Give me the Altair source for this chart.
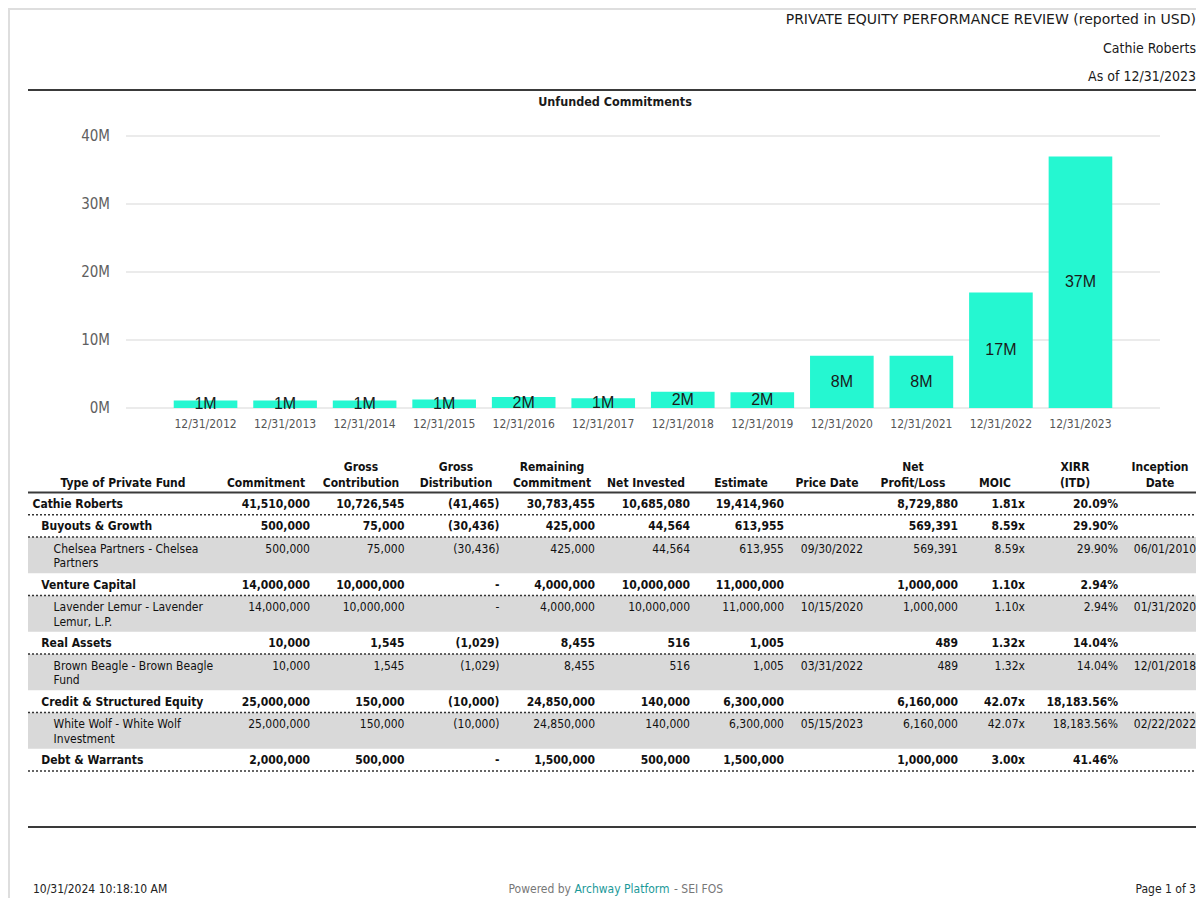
import textwrap
import pandas as pd
import altair as alt

# ---------------- data ----------------
report_title = "PRIVATE EQUITY PERFORMANCE REVIEW (reported in USD)"
client_name = "Cathie Roberts"
as_of_text = "As of 12/31/2023"
chart_title = "Unfunded Commitments"
footer_left = "10/31/2024 10:18:10 AM"
footer_mid = ["Powered by", "Archway Platform", "- SEI FOS"]
footer_right = "Page 1 of 3"

period_ends = ["12/31/2012", "12/31/2013", "12/31/2014", "12/31/2015", "12/31/2016", "12/31/2017",
               "12/31/2018", "12/31/2019", "12/31/2020", "12/31/2021", "12/31/2022", "12/31/2023"]
unfunded_musd = [1.1, 1.1, 1.1, 1.25, 1.6, 1.45, 2.4, 2.3, 7.7, 7.7, 17.0, 37.0]
axis_ticks_musd = [0, 10, 20, 30, 40]

header_top = ["", "", "Gross", "Gross", "Remaining", "", "", "", "Net", "", "XIRR", "Inception"]
header_bottom = ["Type of Private Fund", "Commitment", "Contribution", "Distribution", "Commitment",
                 "Net Invested", "Estimate", "Price Date", "Profit/Loss", "MOIC", "(ITD)", "Date"]

fund_names = ["Cathie Roberts", "Buyouts & Growth", "Chelsea Partners - Chelsea Partners",
              "Venture Capital", "Lavender Lemur - Lavender Lemur, L.P.", "Real Assets",
              "Brown Beagle - Brown Beagle Fund", "Credit & Structured Equity",
              "White Wolf - White Wolf Investment", "Debt & Warrants"]
levels = [0, 1, 2, 1, 2, 1, 2, 1, 2, 1]
commitment = [41510000, 500000, 500000, 14000000, 14000000, 10000, 10000, 25000000, 25000000, 2000000]
gross_contribution = [10726545, 75000, 75000, 10000000, 10000000, 1545, 1545, 150000, 150000, 500000]
gross_distribution = [-41465, -30436, -30436, 0, 0, -1029, -1029, -10000, -10000, 0]
remaining_commitment = [30783455, 425000, 425000, 4000000, 4000000, 8455, 8455, 24850000, 24850000, 1500000]
net_invested = [10685080, 44564, 44564, 10000000, 10000000, 516, 516, 140000, 140000, 500000]
estimate = [19414960, 613955, 613955, 11000000, 11000000, 1005, 1005, 6300000, 6300000, 1500000]
price_date = ["", "", "09/30/2022", "", "10/15/2020", "", "03/31/2022", "", "05/15/2023", ""]
net_profit_loss = [8729880, 569391, 569391, 1000000, 1000000, 489, 489, 6160000, 6160000, 1000000]
moic = [1.81, 8.59, 8.59, 1.10, 1.10, 1.32, 1.32, 42.07, 42.07, 3.00]
xirr_pct = [20.09, 29.90, 29.90, 2.94, 2.94, 14.04, 14.04, 18183.56, 18183.56, 41.46]
inception_date = ["", "", "06/01/2010", "", "01/31/2020", "", "12/01/2018", "", "02/22/2022", ""]

# ---------------- layout / style ----------------
W, H = 1188, 890
FONT = "DejaVu Sans Condensed, DejaVu Sans"
TITLE_FONT = "DejaVu Sans"
BAR_FONT = "Liberation Sans, Arial"
BAR_COLOR = "#25F7D1"
TEXT = "#111111"
LEFT, RIGHT = 20, 1188
RIGHT_TEXT = 1188
HEADER_CENTERS = [115, 258, 353, 448, 544, 638, 733, 819, 905, 987, 1067, 1152]
COL_RIGHT = [302, 396.5, 491.5, 587, 682, 776, 855, 950, 1017, 1110, 1188]
NAME_X = [24.5, 33.3, 45.6]
ROW0_Y, BOLD_PITCH, FUND_PITCH, LINE2_DY = 496, 22.3, 36.2, 14.7


def fmt_amount(v):
    if v == 0:
        return "-"
    if v < 0:
        return f"({abs(v):,.0f})"
    return f"{v:,.0f}"


def one(df_dict):
    return pd.DataFrame(df_dict)


def text_at(s, x, y, align, size, color=TEXT, weight="normal", font=FONT):
    return alt.Chart(one({"t": [s]})).mark_text(
        align=align, baseline="middle", font=font, fontSize=size, color=color, fontWeight=weight
    ).encode(text="t:N", x=alt.value(x), y=alt.value(y))


def hrule(y, color="#3a3a3a", width=2, dash=None, x1=LEFT, x2=RIGHT):
    kw = dict(color=color, strokeWidth=width)
    if dash:
        kw["strokeDash"] = dash
    return alt.Chart(one({"k": [0]})).mark_rule(**kw).encode(
        x=alt.value(x1), x2=alt.value(x2), y=alt.value(y))


layers = []

# page frame
layers.append(alt.Chart(one({"k": [0]})).mark_rule(color="#dedede", strokeWidth=2).encode(
    x=alt.value(1), y=alt.value(0), y2=alt.value(H)))
layers.append(hrule(1, color="#dedede", width=2, x1=0, x2=W))

# header
layers.append(text_at(report_title, RIGHT_TEXT, 12, "right", 14, "#1a1a1a", font=TITLE_FONT))
layers.append(text_at(client_name, RIGHT_TEXT, 41, "right", 14, "#1a1a1a"))
layers.append(text_at(as_of_text, RIGHT_TEXT, 69, "right", 14, "#1a1a1a"))
layers.append(hrule(82))

# ---------------- bar chart ----------------
bar_df = pd.DataFrame({
    "period": period_ends,
    "value": unfunded_musd,
    "label": [f"{round(v):d}M" for v in unfunded_musd],
})
tick_df = pd.DataFrame({"tick": axis_ticks_musd, "tlabel": [f"{t}M" for t in axis_ticks_musd]})

xs = alt.Scale(type="band", domain=period_ends, range=[118, 1152], paddingInner=0.2, paddingOuter=0.6)
ys = alt.Scale(domain=[0, 40], range=[400, 128], nice=False, zero=True)

grid = alt.Chart(tick_df).mark_rule(color="#e4e4e4", strokeWidth=1.5).encode(
    y=alt.Y("tick:Q", scale=ys, axis=None), x=alt.value(118), x2=alt.value(1152))
ylab = alt.Chart(tick_df).mark_text(align="right", baseline="middle", font=FONT, fontSize=15,
                                    color="#606060").encode(
    y=alt.Y("tick:Q", scale=ys, axis=None), x=alt.value(102), text="tlabel:N")
bars = alt.Chart(bar_df).mark_bar(color=BAR_COLOR).encode(
    x=alt.X("period:N", scale=xs, axis=None), y=alt.Y("value:Q", scale=ys, axis=None))
blab = alt.Chart(bar_df).transform_calculate(mid="datum.value / 2").mark_text(
    align="center", baseline="middle", font=BAR_FONT, fontSize=16, color="#1a1a1a").encode(
    x=alt.X("period:N", scale=xs, axis=None), y=alt.Y("mid:Q", scale=ys, axis=None), text="label:N")
xlab = alt.Chart(bar_df).mark_text(align="center", baseline="middle", font=FONT, fontSize=12,
                                   color="#555555").encode(
    x=alt.X("period:N", scale=xs, axis=None), y=alt.value(416), text="period:N")

layers.append(text_at(chart_title, 607, 94, "center", 12.5, "#1a1a1a", "bold"))
layers.append(alt.layer(grid, bars, blab, ylab, xlab))

# ---------------- table ----------------
centers = []
yy = ROW0_Y
for lv in levels:
    centers.append(yy)
    yy += FUND_PITCH if lv == 2 else BOLD_PITCH

band_rows, dot_rows, name_rows, cell_rows = [], [], [], []
columns = [
    [fmt_amount(v) for v in commitment],
    [fmt_amount(v) for v in gross_contribution],
    [fmt_amount(v) for v in gross_distribution],
    [fmt_amount(v) for v in remaining_commitment],
    [fmt_amount(v) for v in net_invested],
    [fmt_amount(v) for v in estimate],
    price_date,
    [fmt_amount(v) for v in net_profit_loss],
    [f"{v:.2f}x" for v in moic],
    [f"{v:,.2f}%" for v in xirr_pct],
    inception_date,
]
for i, (name, lv, cy) in enumerate(zip(fund_names, levels, centers)):
    bold = lv < 2
    if bold:
        dot_rows.append({"py": cy + 10.8})
    else:
        band_rows.append({"top": centers[i - 1] + 10.8, "bottom": cy + FUND_PITCH - 11.5})
    lines = textwrap.wrap(name, 27) if lv == 2 else [name]
    for k, ln in enumerate(lines):
        name_rows.append({"px": NAME_X[lv], "py": cy + k * LINE2_DY, "t": ln, "bold": bold})
    for j, col in enumerate(columns):
        if col[i]:
            cell_rows.append({"px": COL_RIGHT[j], "py": cy, "t": col[i], "bold": bold})

band_df = pd.DataFrame(band_rows)
dot_df = pd.DataFrame(dot_rows)
name_df = pd.DataFrame(name_rows)
cell_df = pd.DataFrame(cell_rows)
head_df = pd.DataFrame(
    [{"px": HEADER_CENTERS[j], "py": 459.3, "t": t} for j, t in enumerate(header_top) if t] +
    [{"px": HEADER_CENTERS[j], "py": 474.7, "t": t} for j, t in enumerate(header_bottom) if t])

layers.append(alt.Chart(band_df).mark_rect(color="#d9d9d9").encode(
    y=alt.Y("top:Q", scale=None), y2="bottom:Q", x=alt.value(LEFT), x2=alt.value(RIGHT)))
layers.append(alt.Chart(dot_df).mark_rule(color="#333333", strokeWidth=1.5, strokeDash=[2, 2]).encode(
    y=alt.Y("py:Q", scale=None), x=alt.value(LEFT), x2=alt.value(RIGHT)))
layers.append(hrule(484.5))
layers.append(alt.Chart(head_df).mark_text(align="center", baseline="middle", font=FONT, fontSize=12,
                                           fontWeight="bold", color=TEXT).encode(
    x=alt.X("px:Q", scale=None), y=alt.Y("py:Q", scale=None), text="t:N"))

for is_bold in (True, False):
    w = "bold" if is_bold else "normal"
    layers.append(alt.Chart(name_df[name_df["bold"] == is_bold]).mark_text(
        align="left", baseline="middle", font=FONT, fontSize=12, fontWeight=w, color=TEXT).encode(
        x=alt.X("px:Q", scale=None), y=alt.Y("py:Q", scale=None), text="t:N"))
    layers.append(alt.Chart(cell_df[cell_df["bold"] == is_bold]).mark_text(
        align="right", baseline="middle", font=FONT, fontSize=12, fontWeight=w, color=TEXT).encode(
        x=alt.X("px:Q", scale=None), y=alt.Y("py:Q", scale=None), text="t:N"))

layers.append(hrule(819))

# ---------------- footer ----------------
layers.append(text_at(footer_left, 25, 881, "left", 12, "#222222"))
layers.append(text_at(footer_mid[0], 563, 881, "right", 12, "#777777"))
layers.append(text_at(footer_mid[1], 614, 881, "center", 12, "#1a9999"))
layers.append(text_at(footer_mid[2], 666, 881, "left", 12, "#777777"))
layers.append(text_at(footer_right, RIGHT_TEXT, 881, "right", 12, "#222222"))

chart = alt.layer(*layers).properties(
    width=W, height=H, padding=0, autosize=alt.AutoSizeParams(type="none")
).configure_view(strokeWidth=0)

chart.save("out.html", embed_options={"renderer": "svg", "actions": False})
